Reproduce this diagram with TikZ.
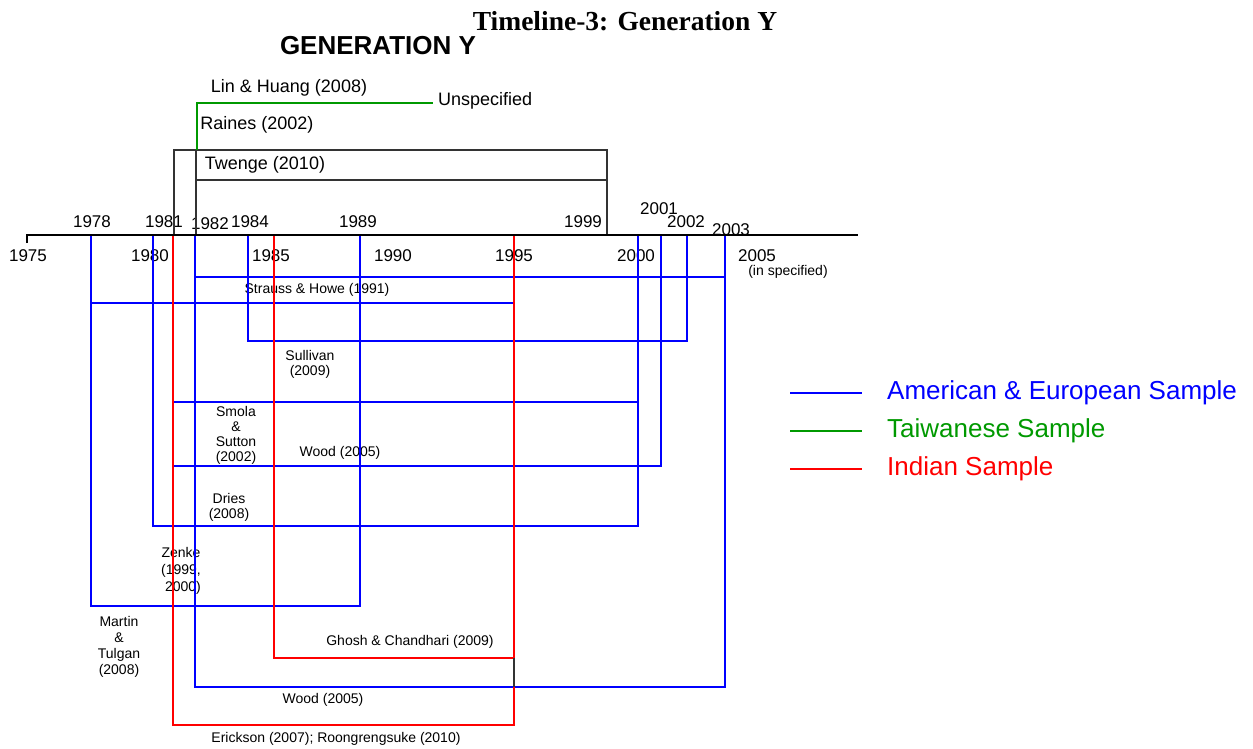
\documentclass[tikz,border=0pt]{standalone}
\usepackage{fontspec}
\setmainfont{Liberation Sans}
\newfontfamily\titlefont{Liberation Serif}

\begin{document}
\begin{tikzpicture}[
  x=1pt, y=-1pt,
  ams/.style={draw=blue, line width=2pt},
  twn/.style={draw=green!60!black, line width=2pt},
  ind/.style={draw=red, line width=2pt},
  blk/.style={draw=black!80, line width=1.6pt},
  yr/.style={font=\fontsize{17}{17}\selectfont, inner sep=0pt},
  big/.style={font=\fontsize{18}{20}\selectfont, inner sep=0pt},
  lbl/.style={font=\fontsize{14}{15}\selectfont, align=center, inner sep=0pt},
  leg/.style={font=\fontsize{26}{28}\selectfont, anchor=west, inner sep=0pt},
]
\useasboundingbox (0,0) rectangle (1253,749);

% ================= TITLES =================
\node[font=\titlefont\bfseries\fontsize{27.5}{29}\selectfont, inner sep=0pt] (title) at (625,21) {Timeline-3: Generation Y};
\node[font=\bfseries\fontsize{26}{28}\selectfont, inner sep=0pt] (gen) at (378,46) {GENERATION Y};

% ================= TOP LABELS =================
\node[big] (linhuang) at (289,88)  {Lin \& Huang (2008)};
\node[big] (raines)   at (257,125) {Raines (2002)};
\node[big] (twenge)   at (265,165) {Twenge (2010)};
\node[big, anchor=west] (unspec) at (438,101) {Unspecified};

% ================= YEARS ABOVE AXIS =================
\node[yr] (a1978) at (92,222)  {1978};
\node[yr] (a1981) at (164,222) {1981};
\node[yr] (a1982) at (210,224) {1982};
\node[yr] (a1984) at (250,222) {1984};
\node[yr] (a1989) at (358,222) {1989};
\node[yr] (a1999) at (583,222) {1999};
\node[yr] (a2001) at (659,209) {2001};
\node[yr] (a2002) at (686,222) {2002};
\node[yr] (a2003) at (731,230) {2003};

% ================= YEARS BELOW AXIS =================
\node[yr] (b1975) at (28,256)  {1975};
\node[yr] (b1980) at (150,256) {1980};
\node[yr] (b1985) at (271,256) {1985};
\node[yr] (b1990) at (393,256) {1990};
\node[yr] (b1995) at (514,256) {1995};
\node[yr] (b2000) at (636,256) {2000};
\node[yr] (b2005) at (757,256) {2005};
\node[lbl] (insp) at (788,272) {(in specified)};

% ================= BOX LABELS =================
\node[lbl] (strauss)  at (317,290) {Strauss \& Howe (1991)};
\node[lbl] (sullivan) at (310,364) {Sullivan\\(2009)};
\node[lbl] (smola)    at (236,435) {Smola\\\&\\Sutton\\(2002)};
\node[lbl] (wooda)    at (340,453) {Wood (2005)};
\node[lbl] (dries)    at (229,507) {Dries\\(2008)};
\node[lbl, font=\fontsize{14}{17}\selectfont] (zenke) at (181,571) {Zenke\\(1999,\\\ 2000)};
\node[lbl, font=\fontsize{14}{16}\selectfont] (martin) at (119,647) {Martin\\\&\\Tulgan\\(2008)};
\node[lbl] (ghosh)    at (410,642) {Ghosh \& Chandhari (2009)};
\node[lbl] (woodb)    at (323,700) {Wood (2005)};
\node[lbl] (erickson) at (336,739) {Erickson (2007); Roongrengsuke (2010)};

% ================= BLUE SPANS =================
\draw[ams] (195,235) |- (725,277) -- (725,235);
\draw[ams] (91,235)  |- (514,303) -- (514,235);
\draw[ams] (248,235) |- (687,341) -- (687,235);
\draw[ams] (173,235) |- (638,402) -- (638,235);
\draw[ams] (173,235) |- (661,466) -- (661,235);
\draw[ams] (153,235) |- (638,526) -- (638,235);
\draw[ams] (91,235)  |- (360,606) -- (360,235);
\draw[ams] (195,235) |- (725,687) -- (725,235);

% ================= RED SPANS =================
\draw[ind] (274,235) |- (514,658) -- (514,235);
\draw[ind] (173,235) |- (514,725) -- (514,235);
\draw[blk] (514,658) -- (514,687);

% ================= BLACK / GREEN SPANS =================
\draw[blk] (174,235) |- (607,150) -- (607,235);
\draw[blk] (196,235) -- (196,150);
\draw[blk] (196,180) -- (607,180);
\draw[twn] (197,150) |- (433,103);

% ================= AXIS =================
\draw[black, line width=2pt] (27,243) -- (27,235) -- (858,235);

% ================= LEGEND =================
\draw[ams] (790,393) -- (862,393);
\draw[twn] (790,431) -- (862,431);
\draw[ind] (790,469) -- (862,469);
\node[leg, text=blue]            (legams) at (887,393) {American \& European Sample};
\node[leg, text=green!60!black]  (legtwn) at (887,431) {Taiwanese Sample};
\node[leg, text=red]             (legind) at (887,469) {Indian Sample};

\end{tikzpicture}
\end{document}
